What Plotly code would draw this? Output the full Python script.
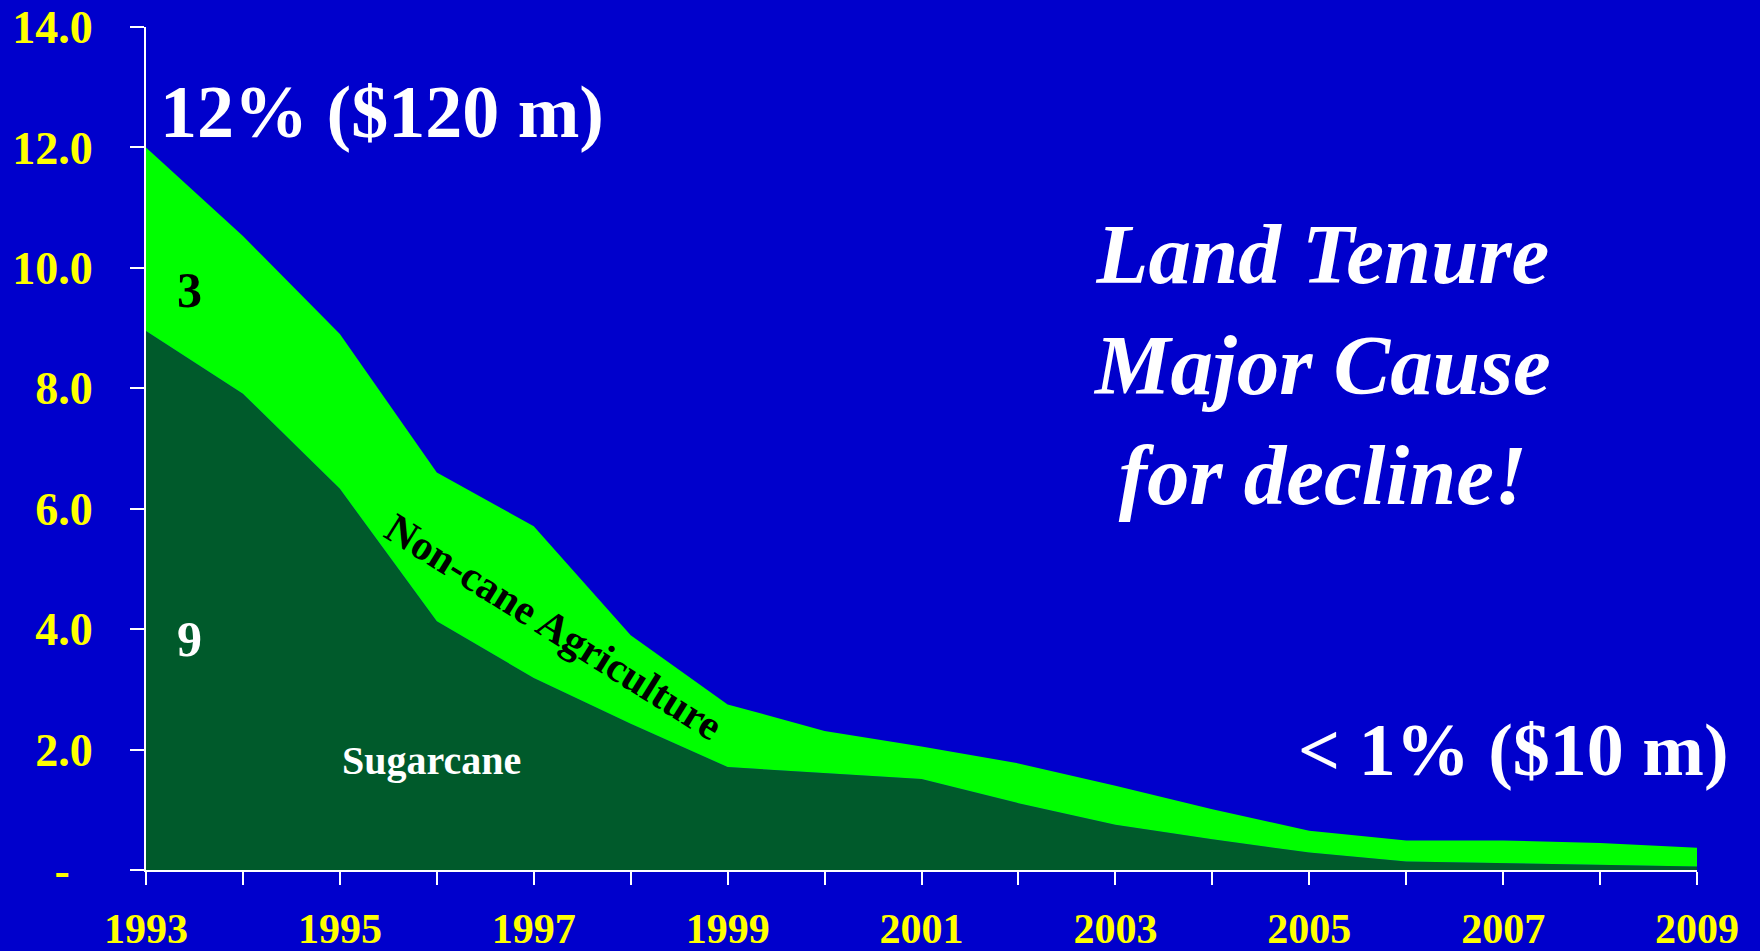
import plotly.graph_objects as go

years = list(range(1993, 2010))
sugarcane = [8.95, 7.91, 6.33, 4.13, 3.19, 2.43, 1.71, 1.61, 1.51, 1.11, 0.75, 0.51, 0.29, 0.14, 0.11, 0.09, 0.06]
non_cane = [3.05, 2.62, 2.57, 2.47, 2.52, 1.47, 1.04, 0.70, 0.54, 0.66, 0.65, 0.50, 0.36, 0.35, 0.38, 0.36, 0.31]

y_tickvals = [0, 2, 4, 6, 8, 10, 12, 14]
y_ticktext = ["-\u00a0\u00a0", "2.0", "4.0", "6.0", "8.0", "10.0", "12.0", "14.0"]
x_tickvals = list(range(1993, 2010))
x_ticktext = [str(y) if (y - 1993) % 2 == 0 else "" for y in x_tickvals]

BG = "#0000CC"
DARK = "#005A2B"
LIGHT = "#00FF00"
SERIF = "Liberation Serif, Times New Roman, serif"

fig = go.Figure()
fig.add_trace(go.Scatter(x=years, y=sugarcane, stackgroup="a", mode="lines",
                         line=dict(width=0, color=DARK), fillcolor=DARK, name="Sugarcane"))
fig.add_trace(go.Scatter(x=years, y=non_cane, stackgroup="a", mode="lines",
                         line=dict(width=0, color=LIGHT), fillcolor=LIGHT, name="Non-cane Agriculture"))

fig.update_layout(
    width=1760, height=951,
    paper_bgcolor=BG, plot_bgcolor=BG,
    margin=dict(l=146, r=63, t=27, b=81),
    showlegend=False,
    xaxis=dict(range=[1993, 2009], tickvals=x_tickvals, ticktext=x_ticktext, automargin=False,
               showgrid=False, zeroline=False, showline=True, linecolor="white", linewidth=2,
               ticks="outside", ticklen=13, tickcolor="white", tickwidth=2,
               ticklabelstandoff=8,
               tickfont=dict(family=SERIF, size=42, color="yellow", weight="bold")),
    yaxis=dict(range=[0, 14], tickvals=y_tickvals, ticktext=y_ticktext, automargin=False,
               showgrid=False, zeroline=False, showline=True, linecolor="white", linewidth=2,
               ticks="outside", ticklen=14, tickcolor="white", tickwidth=2,
               ticklabelstandoff=28,
               tickfont=dict(family=SERIF, size=46, color="yellow", weight="bold")),
)

def ann(text, x, y, size, color="white", bold=True, italic=False, angle=0, xanchor="center"):
    fig.add_annotation(text=text, x=x, y=y, xref="paper", yref="paper",
                       xanchor=xanchor, yanchor="middle", showarrow=False, textangle=angle,
                       font=dict(family=SERIF, size=size, color=color,
                                 weight="bold" if bold else "normal",
                                 style="italic" if italic else "normal"))

def px(xp): return (xp - 146) / (1697 - 146)
def py(yp): return (870 - yp) / (870 - 27)

ann("12% ($120 m)", px(158), py(112), 74, xanchor="left")
ann("&lt; 1% ($10 m)", px(1296), py(750), 74, xanchor="left")
ann("Land Tenure<br>Major Cause<br>for decline!", px(1322), py(364), 85, italic=True)
ann("3", px(189), py(290), 50, color="black")
ann("9", px(189), py(639), 50)
ann("Sugarcane", px(431), py(760), 40)
ann("Non-cane Agriculture", px(554), py(627), 42, color="black", angle=32)

fig.write_html("out.html", config={"displayModeBar": False})

with open("out.html", "r", encoding="utf-8") as f:
    html = f.read()
html = html.replace("<head>", "<head><style>html,body{margin:0;padding:0;overflow:hidden;background:#0000CC}</style>", 1)
with open("out.html", "w", encoding="utf-8") as f:
    f.write(html)
